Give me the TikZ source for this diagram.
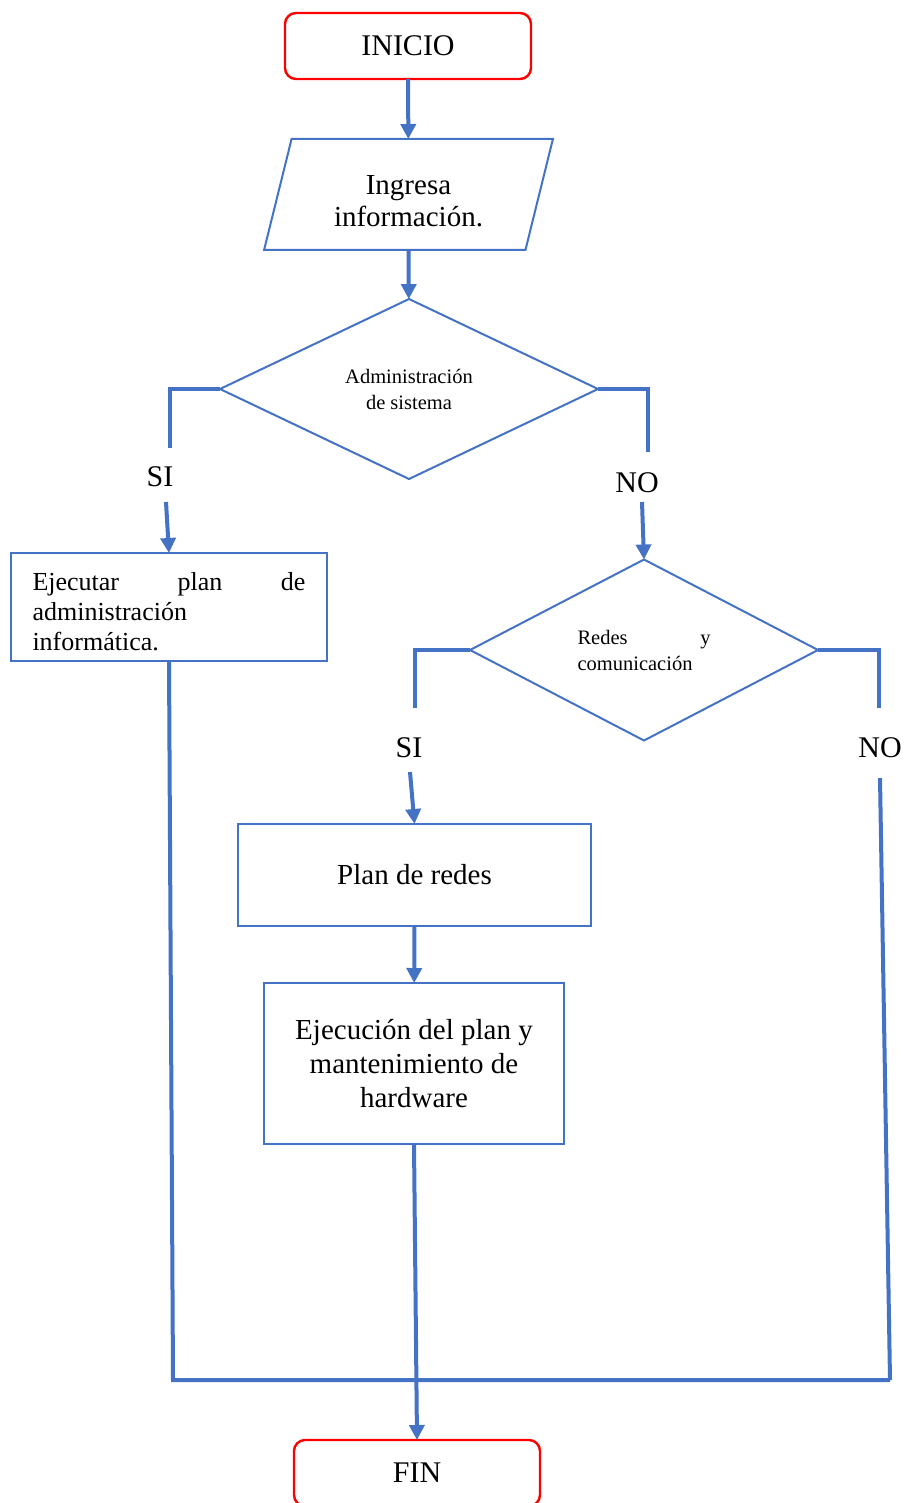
\documentclass[tikz,border=0pt]{standalone}
\usepackage{fontspec}
\setmainfont{Liberation Serif}
\usetikzlibrary{arrows.meta,shapes.geometric}
\definecolor{flowblue}{RGB}{68,114,196}
\definecolor{termred}{RGB}{255,0,0}

\begin{document}
\begin{tikzpicture}[x=1pt,y=-1pt,
  terminal/.style={draw=termred, line width=2.4pt, rounded corners=11pt,
    minimum width=246pt, minimum height=66pt, outer sep=0pt,
    font=\fontsize{30}{34}\selectfont},
  procbox/.style={draw=flowblue, line width=2pt, outer sep=0pt, inner sep=0pt},
  decision/.style={draw=flowblue, line width=2pt, diamond, aspect=2,
    outer sep=0pt, inner sep=0pt, align=center,
    font=\fontsize{20.5}{26}\selectfont},
  answer/.style={font=\fontsize{30}{34}\selectfont, inner sep=0pt},
  link/.style={draw=flowblue, line width=4pt, line join=miter},
  flow/.style={link, -{Triangle[length=15pt,width=15pt]}}
]
\useasboundingbox (0,0) rectangle (907,1503);
\clip (0,0) rectangle (907,1503);

% start / end terminals
\node[terminal] (start) at (408,46) {INICIO};
\node[terminal] (fin) at (417,1473) {FIN};

% data input
\node[procbox, trapezium, trapezium left angle=74.8, trapezium right angle=105.2,
  trapezium stretches=true, minimum width=289pt, minimum height=111pt,
  align=center, font=\fontsize{29}{32}\selectfont] (input) at (408.5,194.5)
  {\rule{0pt}{32pt}Ingresa\\información.};

% decisions
\node[decision, minimum width=378pt, minimum height=180pt] (dec1) at (409,389)
  {Administración\\de sistema};
\node[decision, minimum width=348pt, minimum height=181pt, text width=133pt,
  align=left] (dec2) at (644,650)
  {Redes\hfill y\\comunicación};

% processes
\node[procbox, minimum width=316pt, minimum height=108pt, text width=273pt,
  align=left, font=\fontsize{26}{30}\selectfont] (admin) at (169,607)
  {\rule{0pt}{27pt}Ejecutar\hfill plan\hfill de\\administración\\informática.};
\node[procbox, minimum width=353pt, minimum height=102pt,
  font=\fontsize{29}{34}\selectfont] (redes) at (414.5,875) {Plan de redes};
\node[procbox, minimum width=300pt, minimum height=161pt, align=center,
  font=\fontsize{29}{34}\selectfont] (ejec) at (414,1063.5)
  {Ejecución del plan y\\mantenimiento de\\hardware};

% branch labels
\node[answer] (si1) at (160,477) {SI};
\node[answer] (no1) at (637,483) {NO};
\node[answer] (si2) at (409,748) {SI};
\node[answer] (no2) at (880,748) {NO};

% free ends of the branch lines
\coordinate (si1top) at (170,448);
\coordinate (si1bot) at (166,502);
\coordinate (no1top) at (648,452);
\coordinate (no1bot) at (642,502);
\coordinate (si2top) at (415,708);
\coordinate (si2bot) at (410,772);
\coordinate (no2top) at (879,708);
\coordinate (no2bot) at (880,778);
\coordinate (joinL) at (173,1380);
\coordinate (joinR) at (890,1380);

% main flow
\draw[flow] (start) -- (input);
\draw[flow] (input) -- (dec1);

% first decision
\draw[link] (dec1.west) -| (si1top);
\draw[flow] (si1bot) -- (admin.north);
\draw[link] (dec1.east) -| (no1top);
\draw[flow] (no1bot) -- (dec2.north);

% second decision
\draw[link] (dec2.west) -| (si2top);
\draw[flow] (si2bot) -- (redes.north);
\draw[link] (dec2.east) -| (no2top);
\draw[link] (no2bot) -- (joinR);

\draw[flow] (redes) -- (ejec);

% merge into the end
\draw[link] (admin.south) -- (joinL) -- (joinR);
\draw[flow] (ejec.south) -- (fin.north);
\end{tikzpicture}
\end{document}
